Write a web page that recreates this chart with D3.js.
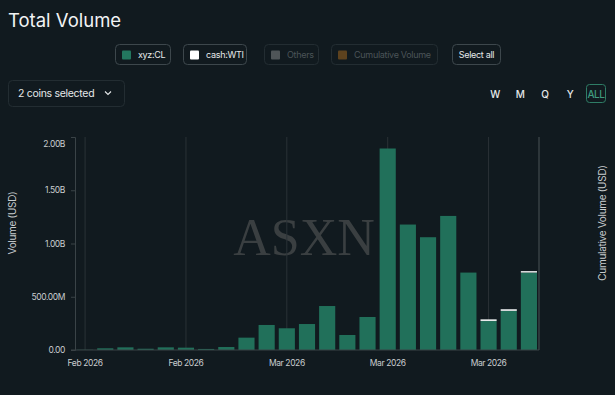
<!DOCTYPE html>
<html>
<head>
<meta charset="utf-8">
<script src="https://cdn.jsdelivr.net/npm/d3@7"></script>
<style>
  body { margin: 0; background: #111a1f; }
  svg { display: block; font-family: Inter, "Liberation Sans", sans-serif; }
</style>
</head>
<body>
<svg id="chart" width="615" height="395"></svg>
<script>
// daily buckets, Feb 20 .. Mar 14 2026
const dates = d3.timeDays(new Date(2026, 1, 20), new Date(2026, 2, 15));
// volume in USD millions
const xyzCL = [2, 16, 25, 12, 25, 22, 10, 28, 116, 235, 204, 244, 413, 141, 310, 1892, 1178, 1059, 1259, 727, 272, 367, 727];
const cashWTI = [0, 0, 0, 0, 0, 0, 0, 0, 0, 0, 0, 0, 0, 0, 0, 0, 0, 0, 0, 0, 16, 16, 14];
const yTicks = [0, 500, 1000, 1500, 2000];
const tickEvery = 5;

const legendItems = [
  { name: "xyz:CL", color: "#23775f", on: true },
  { name: "cash:WTI", color: "#ffffff", on: true },
  { name: "Others", color: "#5b6063", on: false },
  { name: "Cumulative Volume", color: "#6b4a1e", on: false },
];
const periods = ["W", "M", "Q", "Y", "ALL"];

const svg = d3.select("#chart");
const margin = { left: 75, right: 76, top: 137, bottom: 45 };
const W = 615, H = 395;

// title
svg.append("text")
  .attr("x", 8).attr("y", 27)
  .attr("fill", "#f1f3f4")
  .attr("font-size", 18.5)
  .text("Total Volume");

// legend buttons
const legendX = [115, 183, 264, 331];
const legendW = [55, 63, 54, 106];
legendItems.forEach((item, i) => {
  const g = svg.append("g").attr("transform", `translate(${legendX[i]},44)`);
  g.append("rect")
    .attr("x", 0.5).attr("y", 0.5)
    .attr("width", legendW[i]).attr("height", 20)
    .attr("rx", 4)
    .attr("fill", "none")
    .attr("stroke", item.on ? "#3d474c" : "#232d32");
  g.append("rect")
    .attr("x", 7).attr("y", 6.5)
    .attr("width", 9).attr("height", 9)
    .attr("rx", 1)
    .attr("fill", item.color)
    .attr("opacity", item.on ? 1 : 0.85);
  g.append("text")
    .attr("x", 23).attr("y", 14)
    .attr("font-size", 9)
    .attr("letter-spacing", -0.3)
    .attr("fill", item.on ? "#e6e9ea" : "#4b5458")
    .text(item.name);
});
const selAll = svg.append("g").attr("transform", "translate(452,44)");
selAll.append("rect")
  .attr("x", 0.5).attr("y", 0.5).attr("width", 48).attr("height", 20).attr("rx", 4)
  .attr("fill", "none").attr("stroke", "#3d474c");
selAll.append("text")
  .attr("x", 24.5).attr("y", 14).attr("text-anchor", "middle")
  .attr("font-size", 9).attr("letter-spacing", -0.3)
  .attr("fill", "#e6e9ea").text("Select all");

// coin dropdown
const dd = svg.append("g").attr("transform", "translate(8,80)");
dd.append("rect")
  .attr("x", 0.5).attr("y", 0.5).attr("width", 116).attr("height", 26).attr("rx", 4)
  .attr("fill", "none").attr("stroke", "#232d32");
dd.append("text")
  .attr("x", 10).attr("y", 17)
  .attr("font-size", 10.5).attr("letter-spacing", -0.3)
  .attr("fill", "#e6e9ea").text("2 coins selected");
dd.append("path")
  .attr("d", "M97,11.5 l3,3 l3,-3")
  .attr("fill", "none").attr("stroke", "#e6e9ea").attr("stroke-width", 1.1);

// period selector
const periodX = [495, 520, 545, 570, 596];
periods.forEach((p, i) => {
  if (p === "ALL") {
    svg.append("rect")
      .attr("x", 586.5).attr("y", 84.5).attr("width", 19).attr("height", 18).attr("rx", 3)
      .attr("fill", "none").attr("stroke", "#2f7d66");
  }
  svg.append("text")
    .attr("x", periodX[i]).attr("y", 97.5)
    .attr("text-anchor", "middle")
    .attr("font-size", 10).attr("font-weight", 500).attr("letter-spacing", -0.4)
    .attr("fill", p === "ALL" ? "#3f9a7e" : "#e6e9ea")
    .text(p);
});

// scales
const x = d3.scaleBand()
  .domain(dates.map((d, i) => i))
  .range([margin.left, W - margin.right])
  .paddingInner(0.2)
  .paddingOuter(0.1);
const y = d3.scaleLinear()
  .domain([0, 2000])
  .range([H - margin.bottom, margin.top]);

// watermark
svg.append("text")
  .attr("x", 304).attr("y", 255)
  .attr("text-anchor", "middle")
  .attr("font-family", "'Liberation Serif', 'DejaVu Serif', serif")
  .attr("font-size", 52)
  .attr("fill", "#3a3f41")
  .text("ASXN");

// vertical gridlines at label ticks
const tickIdx = dates.map((d, i) => i).filter((i) => i % tickEvery === 0);
svg.append("g")
  .selectAll("line")
  .data(tickIdx)
  .join("line")
  .attr("x1", (i) => x(i) + x.bandwidth() / 2)
  .attr("x2", (i) => x(i) + x.bandwidth() / 2)
  .attr("y1", margin.top)
  .attr("y2", y(0))
  .attr("stroke", "#2a3236")
  .attr("stroke-width", 1);

// stacked bars
const rows = dates.map((d, i) => ({ i, xyzCL: xyzCL[i], cashWTI: cashWTI[i] }));
const stack = d3.stack().keys(["xyzCL", "cashWTI"])(rows);
const colors = { xyzCL: "#21705a", cashWTI: "#e8eaeb" };
svg.append("g")
  .selectAll("g")
  .data(stack)
  .join("g")
  .attr("fill", (s) => colors[s.key])
  .selectAll("rect")
  .data((s) => s.filter((d) => d[1] > d[0]))
  .join("rect")
  .attr("x", (d) => x(d.data.i))
  .attr("width", x.bandwidth())
  .attr("y", (d) => y(d[1]))
  .attr("height", (d) => y(d[0]) - y(d[1]));

// left axis
const fmt = (v) => v === 0 ? "0.00" : v >= 1000 ? (v / 1000).toFixed(2) + "B" : v.toFixed(2) + "M";
const yAxis = svg.append("g")
  .attr("transform", `translate(${margin.left},0)`)
  .call(d3.axisLeft(y).tickValues(yTicks).tickFormat(fmt).tickSize(4).tickPadding(6));
yAxis.select(".domain").attr("stroke", "#3a4347");
yAxis.selectAll(".tick line").attr("stroke", "#3a4347");
yAxis.selectAll(".tick text")
  .attr("fill", "#c9cdcf")
  .attr("font-size", 8.5)
  .attr("letter-spacing", -0.4)
  .attr("font-family", "Inter, sans-serif");
// top label sits inside the plot
yAxis.selectAll(".tick text").filter((d) => d === 2000).attr("dy", "1.1em");

// bottom axis
const xAxis = svg.append("g")
  .attr("transform", `translate(0,${y(0)})`)
  .call(d3.axisBottom(x)
    .tickValues(tickIdx)
    .tickFormat((i) => d3.timeFormat("%b %Y")(dates[i]))
    .tickSize(0).tickPadding(10));
xAxis.select(".domain").attr("stroke", "#3a4347").attr("d", `M${margin.left - 4},0H${W - margin.right}`);
xAxis.selectAll(".tick text")
  .attr("fill", "#c9cdcf")
  .attr("font-size", 8.5)
  .attr("letter-spacing", -0.4)
  .attr("font-family", "Inter, sans-serif");

// right axis line (cumulative)
svg.append("line")
  .attr("x1", W - margin.right).attr("x2", W - margin.right)
  .attr("y1", margin.top).attr("y2", y(0))
  .attr("stroke", "#4a5357");

// axis titles
svg.append("text")
  .attr("transform", "translate(16,223) rotate(-90)")
  .attr("text-anchor", "middle")
  .attr("font-size", 10).attr("letter-spacing", -0.3)
  .attr("fill", "#c9cdcf")
  .text("Volume (USD)");
svg.append("text")
  .attr("transform", "translate(606,223) rotate(-90)")
  .attr("text-anchor", "middle")
  .attr("font-size", 10).attr("letter-spacing", -0.3)
  .attr("fill", "#c9cdcf")
  .text("Cumulative Volume (USD)");
</script>
</body>
</html>
